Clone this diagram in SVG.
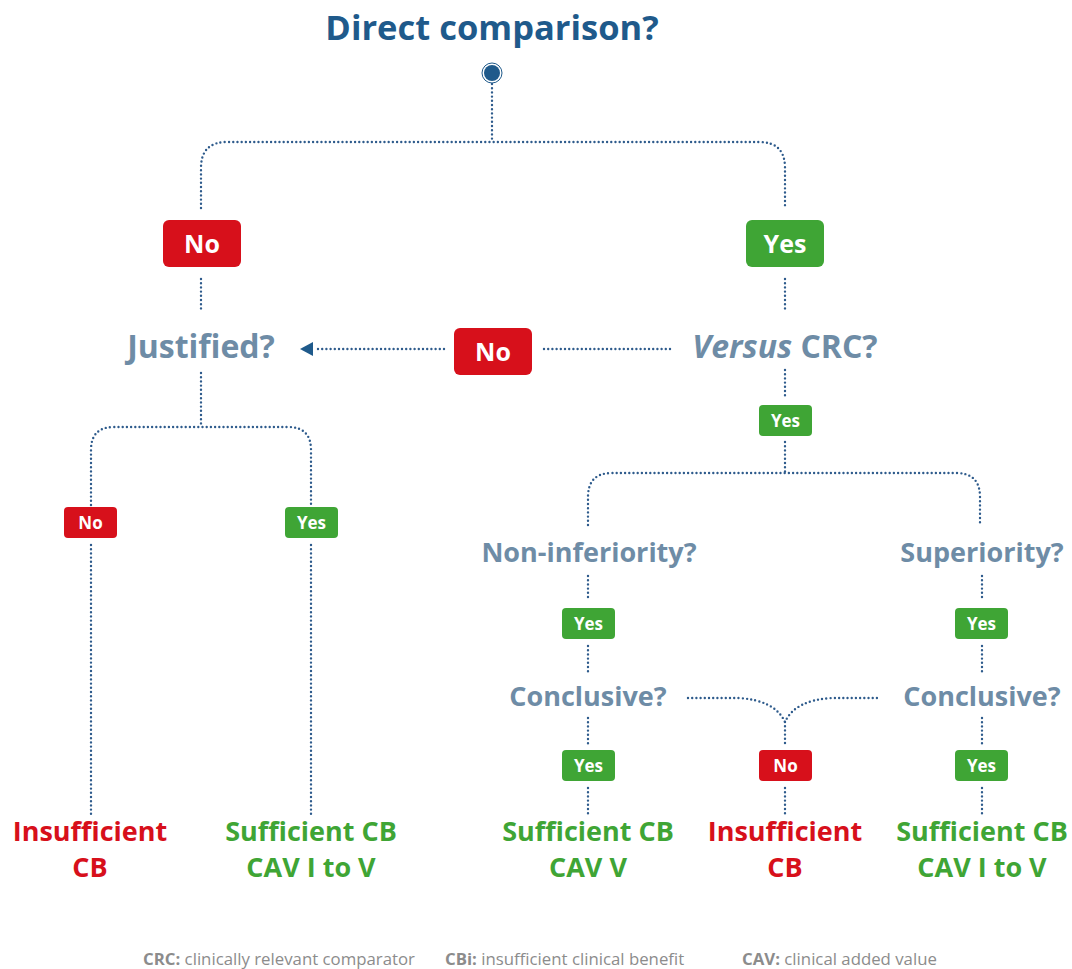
<svg xmlns="http://www.w3.org/2000/svg" width="1072" height="969" viewBox="0 0 1072 969">
<style>
.dot{fill:none;stroke:#2e5b8c;stroke-width:2.4;stroke-linecap:round;stroke-dasharray:0 4.2}
.t{font-family:"Open Sans","Liberation Sans",sans-serif;font-weight:700;text-anchor:middle}
.q{fill:#6e8ca6;font-size:32px}
.q2{fill:#6e8ca6;font-size:27px}
.red{fill:#d7101b}
.grn{fill:#3fa535}
.lbl{fill:#fff}
.res{font-size:27px}
.ft{font-family:"Open Sans","Liberation Sans",sans-serif;font-size:16.8px;fill:#8c8c8c}
</style>
<rect width="1072" height="969" fill="#fff"/>
<g id="connectors">
<path class="dot" d="M492,84 V142"/>
<path class="dot" d="M201,208 V168 Q201,142 227,142 H759 Q785,142 785,168 V208"/>
<path class="dot" d="M201,279 V312"/>
<path class="dot" d="M785,279 V312"/>
<path class="dot" d="M670,349 H542"/>
<path class="dot" d="M444,349 H316"/>
<path d="M313,342 L300,349 L313,356 Z" fill="#1f5a8b"/>
<path class="dot" d="M201,373 V427"/>
<path class="dot" d="M91,505 V450 Q91,427 114,427 H288 Q311,427 311,450 V505"/>
<path class="dot" d="M91,545 V817"/>
<path class="dot" d="M311,545 V817"/>
<path class="dot" d="M785,370 V398"/>
<path class="dot" d="M785,442 V472"/>
<path class="dot" d="M588,525 V497 Q588,473 612,473 H956 Q980,473 980,497 V525"/>
<path class="dot" d="M588,576 V601"/>
<path class="dot" d="M982,576 V601"/>
<path class="dot" d="M588,646 V672"/>
<path class="dot" d="M982,646 V672"/>
<path class="dot" d="M588,718 V744"/>
<path class="dot" d="M982,718 V744"/>
<path class="dot" d="M588,788 V814"/>
<path class="dot" d="M982,788 V814"/>
<path class="dot" d="M785,788 V814"/>
<path class="dot" d="M688,698 H738 Q775,700 785,722 Q795,700 832,698 H880"/>
<path class="dot" d="M785,722 V744"/>
</g>
<g id="title">
<text class="t" x="492" y="40" font-size="34.5" fill="#1f5a8b">Direct comparison?</text>
</g>
<g id="start">
<circle cx="492" cy="73" r="10" fill="#fff" stroke="#1f5a8b" stroke-width="1"/>
<circle cx="492" cy="73" r="8" fill="#1f5a8b"/>
</g>
<g id="no1"><rect x="163" y="220" width="78" height="47" rx="6" class="red"/><text class="t lbl" x="202" y="253" font-size="25">No</text></g>
<g id="yes1"><rect x="746" y="220" width="78" height="47" rx="6" class="grn"/><text class="t lbl" x="785" y="253" font-size="25">Yes</text></g>
<g id="justified"><text class="t q" x="201" y="358">Justified?</text></g>
<g id="no2"><rect x="454" y="328" width="78" height="47" rx="6" class="red"/><text class="t lbl" x="493" y="361" font-size="25">No</text></g>
<g id="versus"><text class="t q" x="785" y="358"><tspan font-style="italic">Versus</tspan> CRC?</text></g>
<g id="yes2"><rect x="759" y="405" width="53" height="31" rx="4" class="grn"/><text class="t lbl" x="785.5" y="427" font-size="17">Yes</text></g>
<g id="no3"><rect x="64" y="507" width="53" height="31" rx="4" class="red"/><text class="t lbl" x="90.5" y="529" font-size="17">No</text></g>
<g id="yes3"><rect x="285" y="507" width="53" height="31" rx="4" class="grn"/><text class="t lbl" x="311.5" y="529" font-size="17">Yes</text></g>
<g id="noninf"><text class="t q2" x="589" y="562">Non-inferiority?</text></g>
<g id="sup"><text class="t q2" x="982" y="562">Superiority?</text></g>
<g id="yes4"><rect x="562" y="608" width="53" height="31" rx="4" class="grn"/><text class="t lbl" x="588.5" y="630" font-size="17">Yes</text></g>
<g id="yes5"><rect x="955" y="608" width="53" height="31" rx="4" class="grn"/><text class="t lbl" x="981.5" y="630" font-size="17">Yes</text></g>
<g id="concl1"><text class="t q2" x="588" y="706">Conclusive?</text></g>
<g id="concl2"><text class="t q2" x="982" y="706">Conclusive?</text></g>
<g id="yes6"><rect x="562" y="750" width="53" height="31" rx="4" class="grn"/><text class="t lbl" x="588.5" y="772" font-size="17">Yes</text></g>
<g id="no4"><rect x="759" y="750" width="53" height="31" rx="4" class="red"/><text class="t lbl" x="785.5" y="772" font-size="17">No</text></g>
<g id="yes7"><rect x="955" y="750" width="53" height="31" rx="4" class="grn"/><text class="t lbl" x="981.5" y="772" font-size="17">Yes</text></g>
<g id="r1"><text class="t res red" x="90" y="841">Insufficient</text><text class="t res red" x="90" y="877">CB</text></g>
<g id="r2"><text class="t res grn" x="311" y="841">Sufficient CB</text><text class="t res grn" x="311" y="877">CAV I to V</text></g>
<g id="r3"><text class="t res grn" x="588" y="841">Sufficient CB</text><text class="t res grn" x="588" y="877">CAV V</text></g>
<g id="r4"><text class="t res red" x="785" y="841">Insufficient</text><text class="t res red" x="785" y="877">CB</text></g>
<g id="r5"><text class="t res grn" x="982" y="841">Sufficient CB</text><text class="t res grn" x="982" y="877">CAV I to V</text></g>
<g id="footer">
<text class="ft" x="143" y="965"><tspan font-weight="700">CRC:</tspan> clinically relevant comparator</text>
<text class="ft" x="445" y="965"><tspan font-weight="700">CBi:</tspan> insufficient clinical benefit</text>
<text class="ft" x="742" y="965"><tspan font-weight="700">CAV:</tspan> clinical added value</text>
</g>
</svg>
